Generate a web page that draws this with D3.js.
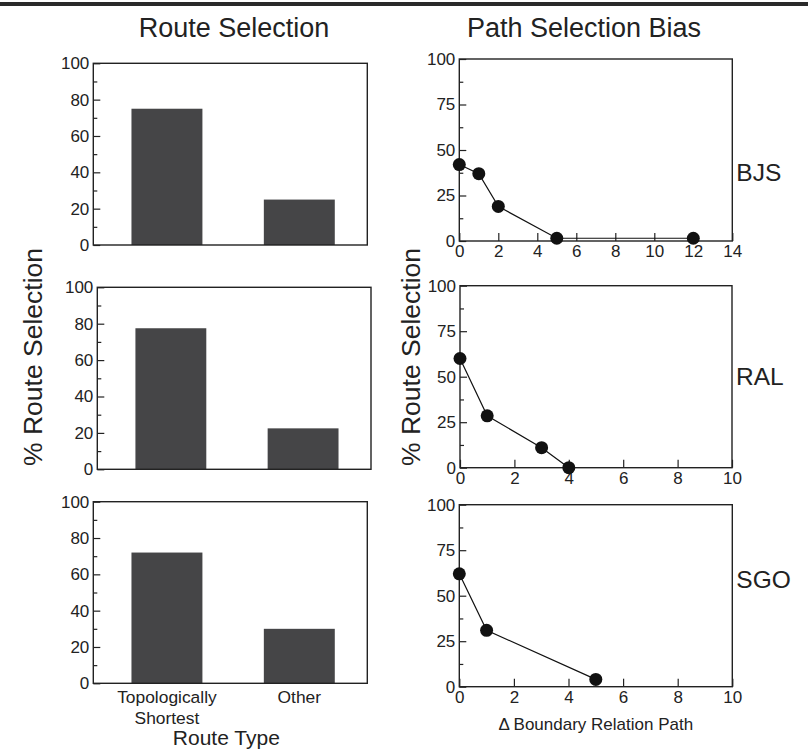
<!DOCTYPE html>
<html lang="en">
<head>
    <meta charset="UTF-8">
    <title>Route Selection</title>
    <style>
      body { margin: 0; background: #fff; }
      svg { display: block; font-family: "Liberation Sans", Arial, Helvetica, sans-serif; }
      .axis text { font-size: 17px; fill: #222; }
      .axis line { stroke: #222; stroke-width: 1.2; }
    </style>
</head>
<body>
    <div id="chart"></div>
    <script src="https://d3js.org/d3.v7.min.js"></script>
    <script>
// left column: bar charts
var routeTypes = ["Topologically Shortest", "Other"];
var routeBJS = [75, 25];
var routeRAL = [77.5, 22.5];
var routeSGO = [72, 30];
var barTicks = [0, 20, 40, 60, 80, 100];
var barMinor = [10, 30, 50, 70, 90];

// right column: path selection bias
var sites = ["BJS", "RAL", "SGO"];
var biasXBJS = [0, 1, 2, 5, 12];
var biasYBJS = [42, 37, 19, 1.5, 1.5];
var biasXRAL = [0, 1, 3, 4];
var biasYRAL = [60, 28.5, 11, 0];
var biasXSGO = [0, 1, 5];
var biasYSGO = [62, 31, 4];
var biasXMax = [14, 10, 10];
var biasXTicks = [[0, 2, 4, 6, 8, 10, 12, 14], [0, 2, 4, 6, 8, 10], [0, 2, 4, 6, 8, 10]];
var biasYTicks = [0, 25, 50, 75, 100];
var biasYMinor = [12.5, 37.5, 62.5, 87.5];

var W = 808, H = 755;

// panel boxes [left, right, top, bottom]
var barBoxes = [[93.3, 367.3, 63.3, 245], [97.3, 371, 287.3, 469.3], [93.3, 367.3, 501.7, 683.3]];
var biasBoxes = [[459.3, 732.3, 59, 241], [460, 732, 285.7, 467.7], [459.3, 732.3, 504.7, 686.7]];
var siteLabelY = [180.7, 385, 588];

var svg = d3.select("#chart").append("svg")
  .attr("width", W)
  .attr("height", H);

svg.append("line")
  .attr("x1", 0).attr("x2", W)
  .attr("y1", 4).attr("y2", 4)
  .attr("stroke", "#2a2a2a")
  .attr("stroke-width", 4);

svg.append("text")
  .attr("x", 234).attr("y", 37)
  .attr("text-anchor", "middle")
  .style("font-size", "27px").style("fill", "#222")
  .text("Route Selection");

svg.append("text")
  .attr("x", 584).attr("y", 37)
  .attr("text-anchor", "middle")
  .style("font-size", "27px").style("fill", "#222")
  .text("Path Selection Bias");

[42, 420].forEach(function(x) {
  svg.append("text")
    .attr("transform", "translate(" + x + ",357) rotate(-90)")
    .attr("text-anchor", "middle")
    .style("font-size", "26.5px").style("fill", "#222")
    .text("% Route Selection");
});

var barData = [routeBJS, routeRAL, routeSGO];

barData.forEach(function(vals, i) {
  var b = barBoxes[i];
  var w = b[1] - b[0], h = b[3] - b[2];
  var g = svg.append("g").attr("transform", "translate(" + b[0] + "," + b[2] + ")");

  var x = d3.scaleBand()
    .domain(routeTypes)
    .range([0, w])
    .paddingInner(0.464)
    .paddingOuter(0.267)
    .align(0.54);
  var y = d3.scaleLinear().domain([0, 100]).range([h, 0]);

  g.selectAll("rect.bar")
    .data(vals)
    .enter().append("rect")
    .attr("class", "bar")
    .attr("x", function(d, j) { return x(routeTypes[j]); })
    .attr("y", function(d) { return y(d); })
    .attr("width", x.bandwidth())
    .attr("height", function(d) { return h - y(d); })
    .style("fill", "#454547");

  g.append("g").attr("class", "axis")
    .call(d3.axisLeft(y).tickValues(barTicks).tickSize(-7).tickPadding(4))
    .call(function(a) { a.select(".domain").remove(); });
  g.append("g").attr("class", "axis")
    .call(d3.axisLeft(y).tickValues(barMinor).tickSize(-4).tickFormat(""))
    .call(function(a) { a.select(".domain").remove(); });

  g.append("rect")
    .attr("width", w).attr("height", h)
    .attr("fill", "none")
    .attr("stroke", "#222")
    .attr("stroke-width", 1.4);

  if (i == 2) {
    var lab = g.selectAll("text.cat")
      .data(routeTypes)
      .enter().append("text")
      .attr("class", "cat")
      .attr("text-anchor", "middle")
      .attr("x", function(d) { return x(d) + x.bandwidth() / 2; })
      .attr("y", h + 20)
      .style("font-size", "17.4px").style("fill", "#222");
    lab.selectAll("tspan")
      .data(function(d) { return d.split(" "); })
      .enter().append("tspan")
      .attr("x", function() { return d3.select(this.parentNode).attr("x"); })
      .attr("dy", function(d, k) { return k == 0 ? 0 : 21; })
      .text(function(d) { return d; });

    g.append("text")
      .attr("x", w / 2 - 4).attr("y", h + 62)
      .attr("text-anchor", "middle")
      .style("font-size", "21px").style("fill", "#222")
      .text("Route Type");
  }
});

var biasX = [biasXBJS, biasXRAL, biasXSGO];
var biasY = [biasYBJS, biasYRAL, biasYSGO];

sites.forEach(function(site, i) {
  var b = biasBoxes[i];
  var w = b[1] - b[0], h = b[3] - b[2];
  var g = svg.append("g").attr("transform", "translate(" + b[0] + "," + b[2] + ")");

  var x = d3.scaleLinear().domain([0, biasXMax[i]]).range([0, w]);
  var y = d3.scaleLinear().domain([0, 100]).range([h, 0]);

  g.append("g").attr("class", "axis")
    .call(d3.axisLeft(y).tickValues(biasYTicks).tickSize(-7).tickPadding(4))
    .call(function(a) { a.select(".domain").remove(); });
  g.append("g").attr("class", "axis")
    .call(d3.axisLeft(y).tickValues(biasYMinor).tickSize(-4).tickFormat(""))
    .call(function(a) { a.select(".domain").remove(); });
  g.append("g").attr("class", "axis")
    .attr("transform", "translate(0," + h + ")")
    .call(d3.axisBottom(x).tickValues(biasXTicks[i]).tickSize(-8).tickPadding(4))
    .call(function(a) { a.select(".domain").remove(); });

  g.append("rect")
    .attr("width", w).attr("height", h)
    .attr("fill", "none")
    .attr("stroke", "#222")
    .attr("stroke-width", 1.4);

  var pts = biasX[i].map(function(v, k) { return [v, biasY[i][k]]; });

  g.append("path")
    .datum(pts)
    .attr("fill", "none")
    .attr("stroke", "#111")
    .attr("stroke-width", 1.2)
    .attr("d", d3.line().x(function(d) { return x(d[0]); }).y(function(d) { return y(d[1]); }));

  g.selectAll("circle")
    .data(pts)
    .enter().append("circle")
    .attr("cx", function(d) { return x(d[0]); })
    .attr("cy", function(d) { return y(d[1]); })
    .attr("r", 6.5)
    .style("fill", "#111");

  svg.append("text")
    .attr("x", b[1] + 4).attr("y", siteLabelY[i])
    .style("font-size", "24.5px").style("fill", "#222")
    .text(site);

  if (i == 2) {
    g.append("text")
      .attr("x", w / 2).attr("y", h + 43)
      .attr("text-anchor", "middle")
      .style("font-size", "17px").style("fill", "#222")
      .text("\u0394 Boundary Relation Path");
  }
});
</script>
</body>
</html>
